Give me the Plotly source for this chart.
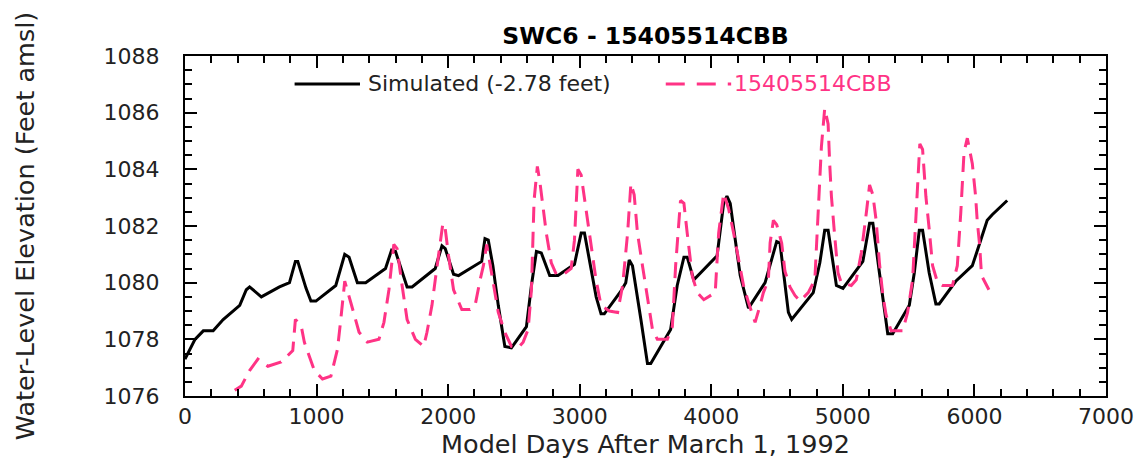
import plotly.graph_objects as go

# ---------------- data ----------------
sim_days = [0, 76, 139, 214, 290, 416, 466, 491, 580, 718, 794, 839, 857, 920, 957, 995,
            1146, 1184, 1214, 1247, 1310, 1373, 1524, 1570, 1600, 1688, 1726, 1902, 1953,
            1978, 2041, 2079, 2255, 2280, 2305, 2340, 2381, 2431, 2481, 2595, 2633, 2671,
            2708, 2772, 2835, 2960, 3011, 3036, 3125, 3162, 3187, 3313, 3350, 3376, 3401,
            3465, 3515, 3540, 3615, 3691, 3741, 3792, 3817, 3867, 4044, 4094, 4119, 4144,
            4220, 4283, 4409, 4460, 4497, 4522, 4586, 4611, 4775, 4825, 4862, 4888, 4951,
            5001, 5152, 5203, 5228, 5278, 5341, 5379, 5505, 5543, 5581, 5606, 5656, 5707,
            5732, 5858, 5984, 6034, 6097, 6135, 6249]
sim_elev = [1077.3, 1078.0, 1078.3, 1078.3, 1078.7, 1079.2, 1079.75, 1079.85, 1079.5,
            1079.85, 1080.0, 1080.75, 1080.75, 1079.8, 1079.35, 1079.35, 1079.9, 1080.5,
            1081.0, 1080.9, 1080.0, 1080.0, 1080.5, 1081.15, 1081.1, 1079.85, 1079.85,
            1080.5, 1081.3, 1081.2, 1080.3, 1080.25, 1080.75, 1081.55, 1081.5, 1080.6,
            1079.2, 1077.75, 1077.7, 1078.45, 1079.9, 1081.1, 1081.05, 1080.25, 1080.25,
            1080.65, 1081.75, 1081.75, 1079.5, 1078.9, 1078.9, 1079.7, 1080.0, 1080.8,
            1080.6, 1078.7, 1077.15, 1077.15, 1077.75, 1078.35, 1079.9, 1080.9, 1080.9,
            1080.1, 1080.95, 1082.8, 1083.05, 1082.8, 1080.25, 1079.1, 1080.0, 1080.8,
            1081.45, 1081.4, 1078.95, 1078.7, 1079.65, 1080.7, 1081.85, 1081.85, 1079.9,
            1079.8, 1080.75, 1082.1, 1082.1, 1080.35, 1078.2, 1078.2, 1079.2, 1080.35,
            1081.85, 1081.85, 1080.35, 1079.25, 1079.25, 1080.05, 1080.6, 1081.3, 1082.2,
            1082.4, 1082.9]

obs_days = [378, 428, 491, 554, 630, 731, 819, 839, 882, 907, 983, 1045, 1109, 1159, 1184,
            1214, 1260, 1323, 1386, 1474, 1512, 1550, 1587, 1612, 1650, 1688, 1751, 1814,
            1839, 1877, 1902, 1960, 1978, 2003, 2041, 2104, 2167, 2205, 2243, 2268, 2293,
            2343, 2381, 2431, 2481, 2532, 2570, 2608, 2633, 2653, 2678, 2696, 2721, 2746,
            2784, 2822, 2880, 2935, 2960, 2986, 3011, 3049, 3087, 3124, 3162, 3225, 3288,
            3326, 3364, 3389, 3414, 3439, 3477, 3515, 3553, 3590, 3666, 3704, 3729, 3766,
            3792, 3817, 3855, 3893, 3943, 4030, 4056, 4094, 4132, 4170, 4207, 4245, 4283,
            4333, 4371, 4396, 4434, 4447, 4472, 4497, 4535, 4560, 4598, 4636, 4674, 4737,
            4787, 4812, 4837, 4862, 4888, 4900, 4913, 4938, 4963, 4988, 5064, 5102, 5140,
            5178, 5203, 5228, 5253, 5278, 5304, 5329, 5367, 5455, 5492, 5530, 5555, 5585,
            5606, 5631, 5656, 5682, 5720, 5757, 5833, 5870, 5896, 5921, 5946, 5984, 6009,
            6021, 6040, 6054, 6110]
obs_elev = [1076.2, 1076.35, 1076.9, 1077.3, 1077.05, 1077.2, 1077.6, 1078.7, 1078.5,
            1077.9, 1076.9, 1076.6, 1076.7, 1077.65, 1078.7, 1080.05, 1079.3, 1078.25,
            1077.9, 1078.0, 1078.6, 1079.75, 1081.35, 1081.2, 1079.9, 1078.7, 1078.0,
            1077.75, 1078.25, 1079.2, 1080.1, 1082.1, 1081.9, 1080.95, 1079.75, 1079.05,
            1079.05, 1079.2, 1080.1, 1080.6, 1081.35, 1079.9, 1078.95, 1078.25, 1077.75,
            1077.7, 1077.9, 1078.35, 1079.75, 1082.9, 1084.1, 1083.6, 1082.7, 1081.75,
            1080.7, 1080.3, 1080.3, 1080.5, 1081.5, 1084.0, 1083.8, 1082.6, 1081.4, 1080.1,
            1079.2, 1079.0, 1078.95, 1079.9, 1081.75, 1083.5, 1083.1, 1081.75, 1080.6,
            1079.4, 1078.35, 1078.0, 1078.0, 1078.45, 1080.6, 1082.9, 1082.8, 1081.75,
            1080.25, 1079.65, 1079.4, 1079.65, 1081.75, 1083.15, 1082.6, 1081.75, 1080.8,
            1079.9, 1079.3, 1078.6, 1079.2, 1079.65, 1080.1, 1081.4, 1082.2, 1082.05,
            1081.4, 1080.4, 1079.85, 1079.55, 1079.35, 1079.65, 1080.1, 1082.45, 1084.8,
            1086.15, 1085.6, 1084.2, 1083.05, 1081.65, 1080.35, 1080.0, 1079.9, 1080.1,
            1081.05, 1082.45, 1083.45, 1083.1, 1082.2, 1080.7, 1079.55, 1078.85, 1078.3,
            1078.3, 1078.95, 1080.1, 1082.45, 1084.9, 1084.7, 1083.05, 1081.9, 1080.6,
            1080.0, 1079.9, 1079.9, 1080.6, 1082.45, 1084.6, 1085.1, 1084.2, 1083.05,
            1082.2, 1081.3, 1080.25, 1079.75]

sim_name = "Simulated (-2.78 feet)"
obs_name = "15405514CBB"
title_text = "SWC6 - 15405514CBB"
x_title = "Model Days After March 1, 1992"
y_title = "Water-Level Elevation (Feet amsl)"

BLACK = "#000000"
PINK = "#FF3385"
TXT = "#222222"
FONT = "DejaVu Sans, Verdana, sans-serif"
DASH = "16px,9px"

fig = go.Figure()
fig.add_trace(go.Scatter(x=sim_days, y=sim_elev, mode="lines", name=sim_name,
                         line=dict(color=BLACK, width=3), showlegend=False))
fig.add_trace(go.Scatter(x=obs_days, y=obs_elev, mode="lines", name=obs_name,
                         line=dict(color=PINK, width=3, dash=DASH), showlegend=False))

# custom legend
LEG_Y = 0.918
fig.add_shape(type="line", xref="paper", yref="paper", x0=0.119, x1=0.190, y0=LEG_Y, y1=LEG_Y,
              line=dict(color=BLACK, width=3))
fig.add_annotation(xref="paper", yref="paper", x=0.196, y=LEG_Y, text=sim_name,
                   showarrow=False, xanchor="left", yanchor="middle",
                   font=dict(family=FONT, size=22, color=TXT))
fig.add_shape(type="line", xref="paper", yref="paper", x0=0.522, x1=0.593, y0=LEG_Y, y1=LEG_Y,
              line=dict(color=PINK, width=3, dash="19px,12px"))
fig.add_annotation(xref="paper", yref="paper", x=0.594, y=LEG_Y, text=obs_name,
                   showarrow=False, xanchor="left", yanchor="middle",
                   font=dict(family=FONT, size=22, color=PINK))

axis_common = dict(showline=True, linecolor=BLACK, linewidth=2, mirror="ticks",
                   ticks="inside", tickcolor=BLACK, tickwidth=1.5, ticklen=12,
                   showgrid=False, zeroline=False,
                   tickfont=dict(family=FONT, size=22, color=TXT))

fig.update_xaxes(range=[0, 7000], tickmode="linear", tick0=0, dtick=1000,
                 minor=dict(dtick=200, ticks="inside", ticklen=7, tickcolor=BLACK, tickwidth=1.5),
                 title=dict(text=x_title, font=dict(family=FONT, size=25.5, color=TXT), standoff=0),
                 **axis_common)
fig.update_yaxes(range=[1076, 1088], tickmode="linear", tick0=1076, dtick=2,
                 minor=dict(dtick=0.5, ticks="inside", ticklen=7, tickcolor=BLACK, tickwidth=1.5),
                 title=dict(text=y_title, font=dict(family=FONT, size=25.5, color=TXT), standoff=62),
                 ticklabelstandoff=19,
                 **axis_common)

fig.update_layout(
    width=1146, height=459,
    margin=dict(l=185, r=35, t=56, b=62),
    paper_bgcolor="white", plot_bgcolor="white",
    title=dict(text="<b>" + title_text + "</b>", xref="paper", x=0.5, xanchor="center",
               y=0.922, yanchor="middle",
               font=dict(family=FONT, size=23.5, color=BLACK)),
)

fig.write_html("out.html")
